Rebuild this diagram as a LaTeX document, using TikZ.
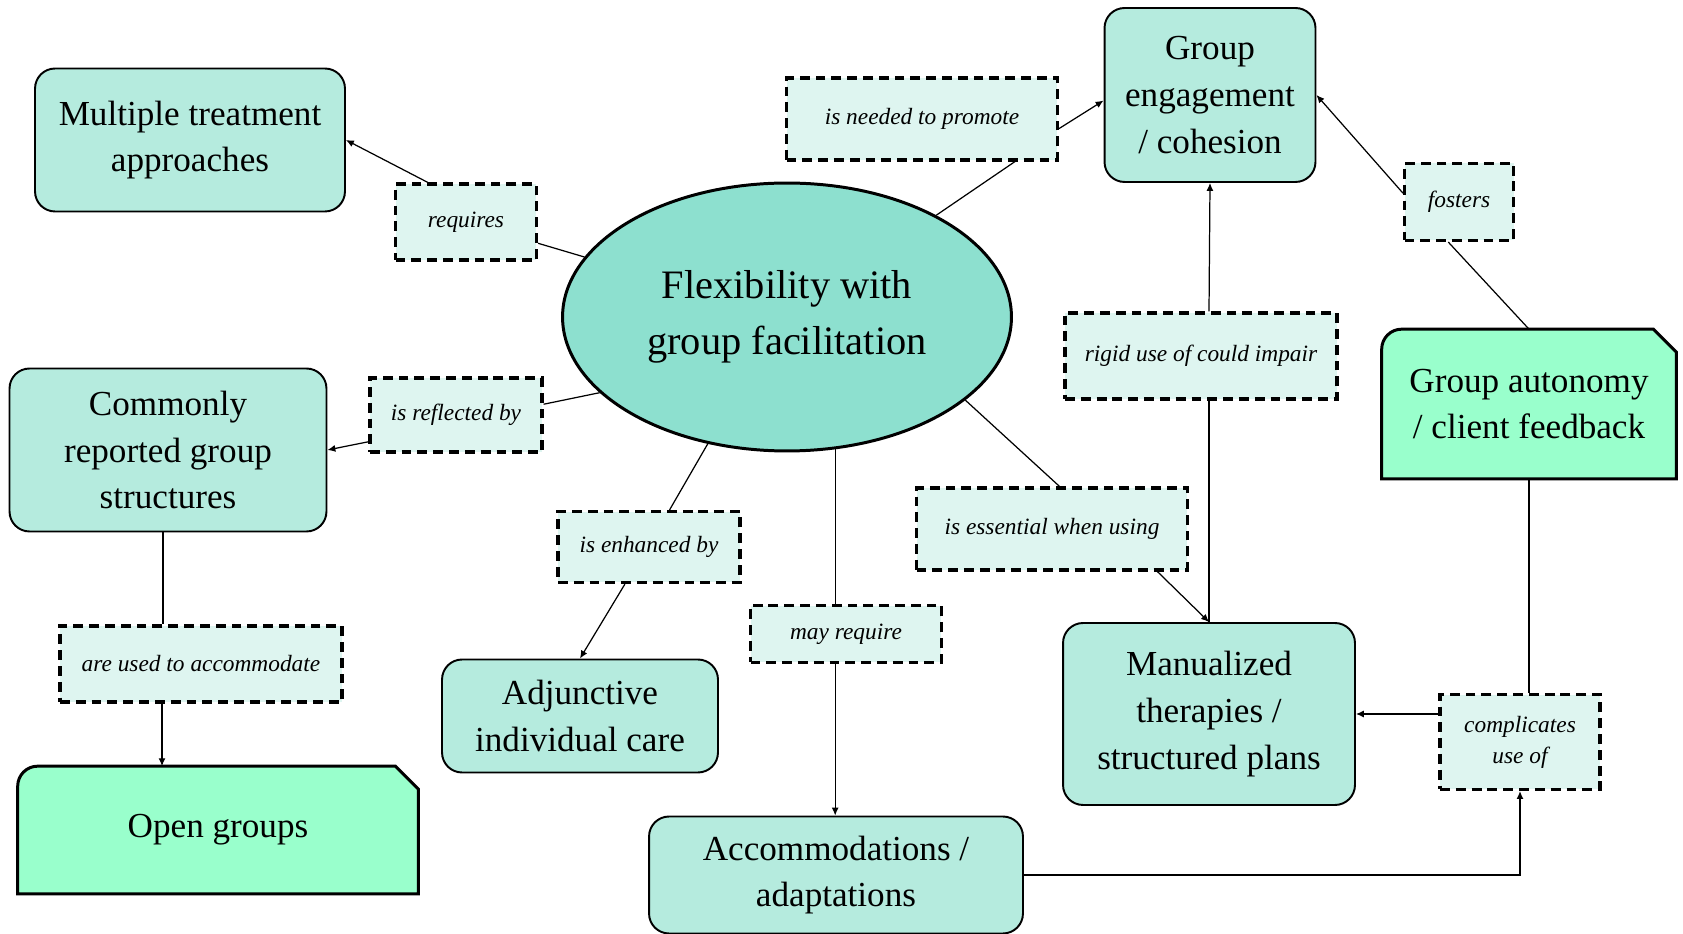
\documentclass[tikz,border=0pt]{standalone}
\usepackage{fontspec}
\setmainfont{Liberation Serif}
\usepackage{xcolor}
\usepackage{tikz}
\usetikzlibrary{shapes.geometric, arrows.meta, backgrounds}

\definecolor{hubgreen}{RGB}{141,224,207}
\definecolor{boxgreen}{RGB}{181,235,222}
\definecolor{linkgreen}{RGB}{222,245,240}
\definecolor{snipgreen}{RGB}{153,255,204}

\tikzset{
  hub/.style={ellipse, draw, line width=1.7pt, fill=hubgreen, align=center, inner sep=0pt,
    font=\fontsize{23}{31.7}\selectfont},
  concept/.style={rectangle, rounded corners=0.4cm, draw, line width=1.1pt, fill=boxgreen,
    align=center, font=\fontsize{20}{26.5}\selectfont},
  snipbox/.style={rectangle, align=center, font=\fontsize{20}{26.5}\selectfont},
  snipline/.style={draw, line width=1.7pt, fill=snipgreen},
  linkbox/.style={rectangle, draw, line width=1.8pt, dash pattern=on 5.6pt off 3.4pt,
    fill=linkgreen, align=center, font=\fontsize{13.3}{17.6}\selectfont\itshape},
  conn/.style={line width=0.7pt}
}

\begin{document}
\begin{tikzpicture}[x=0.02cm, y=0.02cm, >={Latex[length=4.5pt,width=4pt]}]
\useasboundingbox (0,0) rectangle (1683,933);

% main idea
\node[hub, minimum width=8.98cm, minimum height=5.36cm] (flex) at (787,616) {Flexibility with\\group facilitation};

% concepts
\node[concept, minimum width=6.2cm, minimum height=2.86cm] (multi) at (190,793) {Multiple treatment\\approaches};
\node[concept, minimum width=4.22cm, minimum height=3.48cm] (group) at (1210,838) {Group\\engagement\\/ cohesion};
\node[concept, minimum width=6.34cm, minimum height=3.26cm] (common) at (168,483) {Commonly\\reported group\\structures};
\node[concept, minimum width=5.52cm, minimum height=2.26cm] (adjunct) at (580,217) {Adjunctive\\individual care};
\node[concept, minimum width=5.84cm, minimum height=3.64cm] (manual) at (1209,219) {Manualized\\therapies /\\structured plans};
\node[concept, minimum width=7.48cm, minimum height=2.34cm] (accom) at (836,58) {Accommodations /\\adaptations};
\node[snipbox, minimum width=5.88cm, minimum height=2.98cm] (autonomy) at (1529,529) {Group autonomy\\/ client feedback};
\node[snipbox, minimum width=8cm, minimum height=2.54cm] (open) at (218,103) {Open groups};

% snipped corners
\begin{scope}[on background layer]
\foreach \n in {autonomy, open}
  \path[snipline] (\n.south west) -- ([yshift=-0.4cm]\n.north west)
    arc[start angle=180, end angle=90, radius=0.4cm]
    -- ([xshift=-0.46cm]\n.north east) -- ([yshift=-0.46cm]\n.north east)
    -- (\n.south east) -- cycle;
\end{scope}

% linking phrases
\node[linkbox, minimum width=2.82cm, minimum height=1.52cm] (requires) at (466,711) {requires};
\node[linkbox, minimum width=5.42cm, minimum height=1.64cm] (promote) at (922,814) {is needed to promote};
\node[linkbox, minimum width=2.18cm, minimum height=1.54cm] (fosters) at (1459,731) {fosters};
\node[linkbox, minimum width=5.44cm, minimum height=1.72cm] (rigid) at (1201,577) {rigid use of could impair};
\node[linkbox, minimum width=3.44cm, minimum height=1.48cm] (reflected) at (456,518) {is reflected by};
\node[linkbox, minimum width=3.64cm, minimum height=1.42cm] (enhanced) at (649,386) {is enhanced by};
\node[linkbox, minimum width=5.42cm, minimum height=1.64cm] (essential) at (1052,404) {is essential when using};
\node[linkbox, minimum width=3.82cm, minimum height=1.14cm] (mayreq) at (846,299) {may require};
\node[linkbox, minimum width=5.64cm, minimum height=1.52cm] (usedto) at (201,269) {are used to accommodate};
\node[linkbox, minimum width=3.2cm, minimum height=1.9cm] (complic) at (1520,191) {complicates\\use of};

% connectors
\draw[conn] (flex) -- (requires);
\draw[conn,->] (requires.134) -- (multi.east);
\draw[conn] (flex) -- ([xshift=1.86cm]promote.south);
\draw[conn,->] (promote.-4) -- (group.183);
\draw[conn] (flex.202) -- (reflected.7);
\draw[conn,->] (reflected.197) -- (common.east);
\draw[conn] (flex.238) -- (enhanced.61);
\draw[conn,->] (enhanced.237) -- (adjunct.north);
\draw[conn] (flex.290) -- (flex.290 |- mayreq.north);
\draw[conn,->] (flex.290 |- mayreq.south) -- (flex.290 |- accom.north);
\draw[conn] (flex.335) -- (essential.80);
\draw[conn,->] (essential.-22) -- (manual.north);
\draw[conn] (manual.north) -- (manual.north |- rigid.south);
\draw[conn,->] (manual.north |- rigid.north) -- (group.south);
\draw[conn] (autonomy.north) -- (fosters.255);
\draw[conn,->] (fosters.171) -- (group.east);
\draw[conn] (autonomy.south) -- (autonomy.south |- complic.north);
\draw[conn,->] (complic.west |- manual.east) -- (manual.east);
\draw[conn,->] (accom.east) -| (complic.south);
\draw[conn] ([xshift=-0.1cm]common.south) -- ([xshift=-0.1cm]common.south |- usedto.north);
\draw[conn,->] ([xshift=-0.12cm]common.south |- usedto.south) -- ([xshift=-0.12cm]common.south |- open.north);
\end{tikzpicture}
\end{document}
